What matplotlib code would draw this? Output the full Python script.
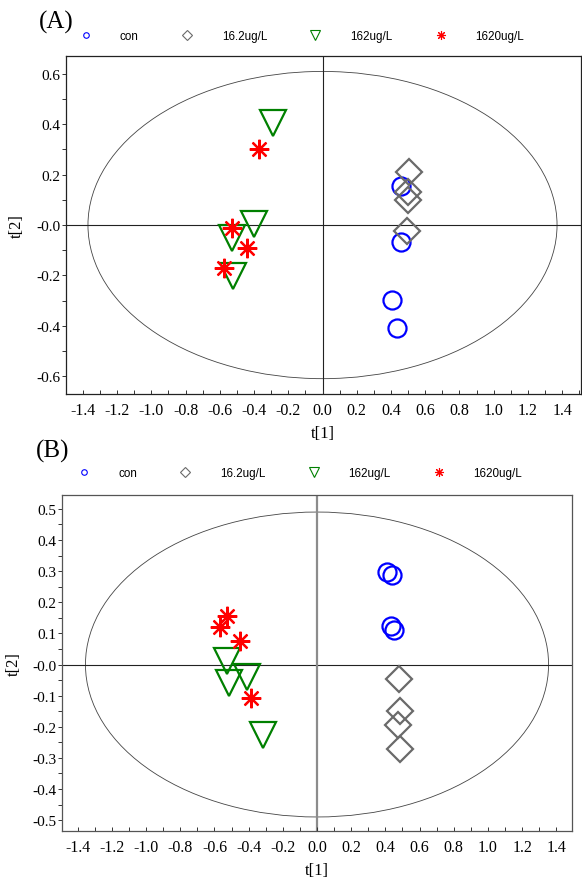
import numpy as np
import matplotlib
matplotlib.use('Agg')
from matplotlib import pyplot as plt
from matplotlib import patches
from matplotlib.lines import Line2D
from matplotlib.ticker import MultipleLocator, FuncFormatter

# =============================================================================
# Score plots (t[1] vs t[2]) for two panels, 4 groups each
# =============================================================================

groups = ['con', '16.2ug/L', '162ug/L', '1620ug/L']

# panel A scores
conA_t1 = [0.457, 0.459, 0.408, 0.437]
conA_t2 = [0.154, -0.069, -0.297, -0.410]
lowA_t1 = [0.505, 0.498, 0.501, 0.492]
lowA_t2 = [0.209, 0.132, 0.099, -0.023]
midA_t1 = [-0.292, -0.403, -0.529, -0.523]
midA_t2 = [0.406, 0.003, -0.050, -0.201]
highA_t1 = [-0.370, -0.529, -0.442, -0.578]
highA_t2 = [0.302, -0.013, -0.093, -0.171]

# panel B scores
conB_t1 = [0.409, 0.440, 0.434, 0.448]
conB_t2 = [0.298, 0.288, 0.123, 0.112]
lowB_t1 = [0.479, 0.483, 0.475, 0.487]
lowB_t2 = [-0.046, -0.149, -0.193, -0.272]
midB_t1 = [-0.527, -0.410, -0.515, -0.316]
midB_t2 = [0.012, -0.039, -0.058, -0.225]
highB_t1 = [-0.525, -0.566, -0.449, -0.384]
highB_t2 = [0.157, 0.122, 0.074, -0.107]

# Hotelling ellipse half axes
ellA = (1.37, 0.61)
ellB = (1.355, 0.49)

colors = ['#0000ff', '#6a6a6a', '#008000', '#ff0000']
markers = ['o', 'D', 'v', (8, 2, 0)]
msize = [13, 13, 18.5, 14]
lgsize = [4, 5.5, 7.5, 6.5]

plt.rcParams['font.family'] = ['Liberation Serif', 'DejaVu Serif']

fig = plt.figure(figsize=(5.82, 8.79), dpi=100)
axA = fig.add_axes([0.1129, 0.5506, 0.8854, 0.3842])
axB = fig.add_axes([0.1072, 0.0535, 0.8750, 0.3823])


def yfmt(v, pos):
    if abs(v) < 1e-9:
        return '-0.0'
    return '{0:.1f}'.format(v)


def panel(ax, data, ell, xlim, ylim, ymajor, yminor, zcol, zlw, framecol):
    ax.add_patch(patches.Ellipse((0, 0), 2 * ell[0], 2 * ell[1], fill=False,
                                 ec='#444444', lw=0.6, zorder=1))
    ax.axhline(0, color='#222222', lw=0.8, zorder=1)
    ax.axvline(0, color=zcol, lw=zlw, zorder=1)
    for i in range(4):
        ax.plot(data[i][0], data[i][1], ls='none', marker=markers[i], ms=msize[i],
                mfc='none', mec=colors[i], mew=1.6, zorder=3)
    ax.set_xlim(*xlim)
    ax.set_ylim(*ylim)
    ax.xaxis.set_major_locator(MultipleLocator(0.2))
    ax.xaxis.set_minor_locator(MultipleLocator(0.1))
    ax.xaxis.set_major_formatter(FuncFormatter(lambda v, p: '{0:.1f}'.format(v)))
    ax.yaxis.set_major_locator(MultipleLocator(ymajor))
    ax.yaxis.set_minor_locator(MultipleLocator(yminor))
    ax.yaxis.set_major_formatter(FuncFormatter(yfmt))
    ax.tick_params(axis='x', which='both', direction='in', length=3, width=0.7,
                   pad=6, labelsize=11.5, color='#333333')
    ax.tick_params(axis='y', which='both', direction='out', length=3, width=0.7,
                   pad=1, labelsize=11, color='#333333')
    for s in ax.spines.values():
        s.set_color(framecol)
        s.set_linewidth(0.9)
    ax.set_xlabel('t[1]', fontsize=12, labelpad=5)
    ax.set_ylabel('t[2]', fontsize=12, labelpad=8)


dataA = [(conA_t1, conA_t2), (lowA_t1, lowA_t2), (midA_t1, midA_t2), (highA_t1, highA_t2)]
dataB = [(conB_t1, conB_t2), (lowB_t1, lowB_t2), (midB_t1, midB_t2), (highB_t1, highB_t2)]

panel(axA, dataA, ellA, (-1.5, 1.51), (-0.671, 0.67), 0.2, 0.1, '#222222', 0.8, '#222222')
panel(axB, dataB, ellB, (-1.49, 1.49), (-0.535, 0.545), 0.1, 0.05, '#8c8c8c', 1.6, '#555555')

# legends above each panel
handles = [Line2D([], [], ls='none', marker=markers[i], ms=lgsize[i], mfc='none',
                  mec=colors[i], mew=0.8) for i in range(4)]
for yy, xx in [(0.958, 0.127), (0.4608, 0.1237)]:
    fig.legend(handles, groups, loc='center left', bbox_to_anchor=(xx, yy), ncol=4,
               frameon=False, borderpad=0, borderaxespad=0, handlelength=2,
               handletextpad=1.95, columnspacing=3.15,
               prop={'family': 'Liberation Sans', 'size': 8.4})

fig.text(0.067, 0.974, '(A)', fontsize=18, ha='left', va='center')
fig.text(0.062, 0.486, '(B)', fontsize=18, ha='left', va='center')

fig.savefig('out.png', dpi=100)
